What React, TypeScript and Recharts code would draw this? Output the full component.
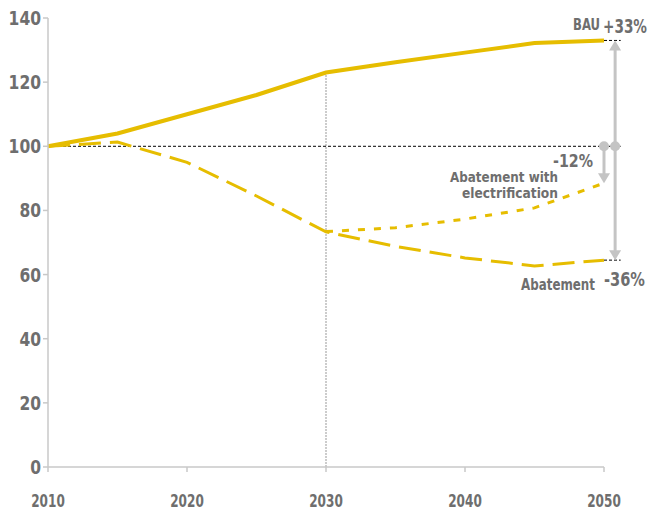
import React from "react";
import { LineChart, Line, XAxis, YAxis, ReferenceLine, ReferenceDot } from "recharts";

const years = [2010, 2015, 2020, 2025, 2030, 2035, 2040, 2045, 2050];
const bau = [100, 104, 110, 116, 123, 126.2, 129.2, 132.2, 133];
const abatement = [100, 101.3, 95, 84.5, 73.3, 68.8, 65.2, 62.7, 64.5];
const electrification = [null, null, null, null, 73.4, 74.6, 77.3, 80.8, 88.5];
const xTicks = [2010, 2020, 2030, 2040, 2050];
const yTicks = [0, 20, 40, 60, 80, 100, 120, 140];

const data = years.map((y, i) => ({
  year: y,
  bau: bau[i],
  abatement: abatement[i],
  electrification: electrification[i],
}));

const YELLOW = "#e6bd00";
const GREY_TEXT = "#6e6e6e";
const ARROW = "#c4c4c4";
const FONT = "'DejaVu Sans Condensed', 'DejaVu Sans', sans-serif";

const head = (dir: "up" | "down") => (p: any) => {
  const { cx, cy } = p;
  if (cx == null || cy == null) return <g />;
  const h = 10;
  const w = 6;
  const pts =
    dir === "up"
      ? `${cx},${cy} ${cx - w},${cy + h} ${cx + w},${cy + h}`
      : `${cx},${cy} ${cx - w},${cy - h} ${cx + w},${cy - h}`;
  return <polygon points={pts} fill={ARROW} />;
};

const dot = (p: any) => {
  const { cx, cy } = p;
  if (cx == null || cy == null) return <g />;
  return <circle cx={cx} cy={cy} r={5} fill={ARROW} />;
};

const label =
  (lines: { t: string; w: number }[], dx: number, dy: number, size: number, anchor: "start" | "end", lh = 15) =>
  (p: any) => {
    const { cx, cy } = p;
    if (cx == null || cy == null) return <g />;
    return (
      <g>
        {lines.map((l, i) => (
          <text
            key={i}
            x={anchor === "end" ? cx + dx - l.w : cx + dx}
            y={cy + dy + i * lh}
            textAnchor="start"
            textLength={l.w}
            lengthAdjust="spacingAndGlyphs"
            fontFamily={FONT}
            fontWeight="bold"
            fontSize={size}
            fill={GREY_TEXT}
          >
            {l.t}
          </text>
        ))}
      </g>
    );
  };

const XTick = (props: any) => {
  const { x, y, payload } = props;
  const s = String(payload.value);
  const w = 8.4 * s.length;
  return (
    <text
      x={x - w / 2}
      y={y + 35}
      textLength={w}
      lengthAdjust="spacingAndGlyphs"
      fontFamily={FONT}
      fontWeight="bold"
      fontSize={18.5}
      fill={GREY_TEXT}
    >
      {s}
    </text>
  );
};

const YTick = (props: any) => {
  const { x, y, payload } = props;
  const s = String(payload.value);
  const w = 10.8 * s.length;
  return (
    <text
      x={x - w}
      y={y + 7}
      textLength={w}
      lengthAdjust="spacingAndGlyphs"
      fontFamily={FONT}
      fontWeight="bold"
      fontSize={19}
      fill={GREY_TEXT}
    >
      {s}
    </text>
  );
};

export default function App() {
  return (
    <div style={{ position: "absolute", left: 0, top: 0 }}>
      <LineChart
        width={669}
        height={510}
        data={data}
        margin={{ top: 18, right: 65, bottom: 0, left: 0 }}
      >
        <XAxis
          dataKey="year"
          type="number"
          domain={[2010, 2050]}
          ticks={xTicks}
          height={43}
          stroke="#c8c8c8"
          strokeWidth={1.5}
          tickSize={5}
          tickMargin={0}
          tick={<XTick />}
        />
        <YAxis
          type="number"
          domain={[0, 140]}
          ticks={yTicks}
          width={48}
          stroke="#c8c8c8"
          strokeWidth={1.5}
          tickSize={5}
          tickMargin={2}
          tick={<YTick />}
        />
        <ReferenceLine
          segment={[
            { x: 2030, y: 0 },
            { x: 2030, y: 123 },
          ]}
          stroke="#999"
          strokeWidth={1}
          strokeDasharray="2 1"
        />
        <ReferenceLine
          segment={[
            { x: 2010, y: 100 },
            { x: 2051.2, y: 100 },
          ]}
          stroke="#000"
          strokeWidth={1}
          strokeDasharray="3 2"
          ifOverflow="visible"
        />
        <ReferenceLine
          segment={[
            { x: 2050, y: 133 },
            { x: 2051.2, y: 133 },
          ]}
          stroke="#000"
          strokeWidth={1}
          strokeDasharray="3 2"
          ifOverflow="visible"
        />
        <ReferenceLine
          segment={[
            { x: 2050, y: 64.5 },
            { x: 2051.2, y: 64.5 },
          ]}
          stroke="#000"
          strokeWidth={1}
          strokeDasharray="3 2"
          ifOverflow="visible"
        />
        <Line
          dataKey="bau"
          stroke={YELLOW}
          strokeWidth={4}
          dot={false}
          isAnimationActive={false}
        />
        <Line
          dataKey="abatement"
          stroke={YELLOW}
          strokeWidth={3}
          strokeDasharray="22 9"
          dot={false}
          isAnimationActive={false}
        />
        <Line
          dataKey="electrification"
          stroke={YELLOW}
          strokeWidth={3}
          strokeDasharray="7 9"
          dot={false}
          connectNulls={false}
          isAnimationActive={false}
        />
        <ReferenceLine
          segment={[
            { x: 2050.8, y: 131 },
            { x: 2050.8, y: 66.5 },
          ]}
          stroke={ARROW}
          strokeWidth={3}
          ifOverflow="visible"
        />
        <ReferenceLine
          segment={[
            { x: 2050, y: 100 },
            { x: 2050, y: 90.5 },
          ]}
          stroke={ARROW}
          strokeWidth={3}
          ifOverflow="visible"
        />
        <ReferenceDot x={2050.8} y={133} ifOverflow="visible" shape={head("up")} />
        <ReferenceDot x={2050.8} y={64.5} ifOverflow="visible" shape={head("down")} />
        <ReferenceDot x={2050} y={88.5} ifOverflow="visible" shape={head("down")} />
        <ReferenceDot x={2050.8} y={100} ifOverflow="visible" shape={dot} />
        <ReferenceDot x={2050} y={100} ifOverflow="visible" shape={dot} />
        <ReferenceDot x={2050} y={133} ifOverflow="visible" shape={label([{ t: "BAU", w: 27 }], -4, -10, 15, "end")} />
        <ReferenceDot x={2050} y={133} ifOverflow="visible" shape={label([{ t: "+33%", w: 44 }], -1, -7, 19, "start")} />
        <ReferenceDot x={2050} y={100} ifOverflow="visible" shape={label([{ t: "-12%", w: 40 }], -11, 21, 18, "end")} />
        <ReferenceDot
          x={2050}
          y={100}
          ifOverflow="visible"
          shape={label(
            [
              { t: "Abatement with", w: 108 },
              { t: "electrification", w: 96 },
            ],
            -46,
            35.5,
            14.5,
            "end",
            16
          )}
        />
        <ReferenceDot x={2050} y={64.5} ifOverflow="visible" shape={label([{ t: "Abatement", w: 74 }], -9, 30, 15.5, "end")} />
        <ReferenceDot x={2050} y={64.5} ifOverflow="visible" shape={label([{ t: "-36%", w: 41 }], 0, 26, 19, "start")} />
      </LineChart>
    </div>
  );
}
